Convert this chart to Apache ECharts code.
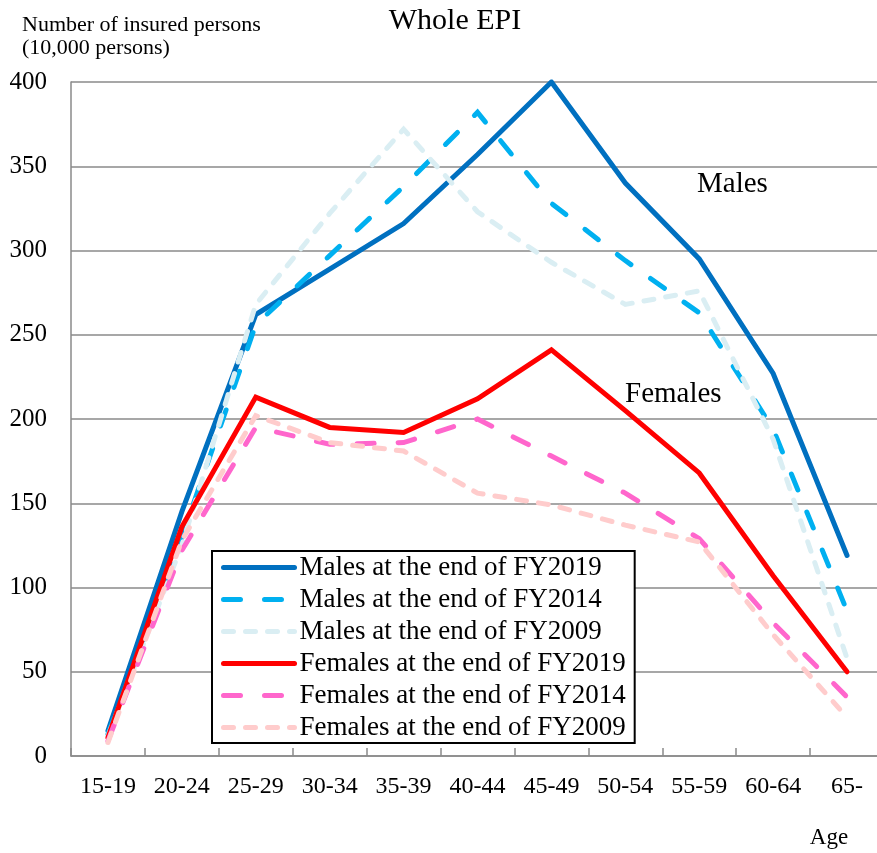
<!DOCTYPE html>
<html>
<head>
<meta charset="utf-8">
<script src="https://cdn.jsdelivr.net/npm/echarts@6/dist/echarts.min.js"></script>
<style>
	html, body { margin: 0; padding: 0; background: #fff; }
	#chart { width: 877px; height: 853px; }
</style>
</head>
<body>
<div id="chart"></div>
<script>
var SERIF = "'Liberation Serif', 'Times New Roman', serif";

// age groups
var ageGroups = ['15-19', '20-24', '25-29', '30-34', '35-39', '40-44', '45-49', '50-54', '55-59', '60-64', '65-'];

// insured persons (10,000 persons)
var males2019 = [15, 145, 262, 289, 316, 357, 400, 340, 295, 227, 119];
var males2014 = [13, 130, 256, 297, 338, 382, 328, 294, 263, 194, 86];
var males2009 = [12, 125, 268, 322, 372, 323, 293, 268, 276, 188, 58];
var females2019 = [11, 136, 213, 195, 192, 212, 241, 205, 168, 107, 50];
var females2014 = [9, 122, 195, 185, 186, 200, 178, 156, 129, 79, 35];
var females2009 = [8, 128, 202, 186, 181, 156, 149, 137, 127, 72, 23];

var seriesNames = [
	'Males at the end of FY2019',
	'Males at the end of FY2014',
	'Males at the end of FY2009',
	'Females at the end of FY2019',
	'Females at the end of FY2014',
	'Females at the end of FY2009'
];

var LONG_DASH = [17, 24];
var SHORT_DASH = [10, 12];

function makeLine(name, data, color, type) {
	return {
		name: name,
		type: 'line',
		data: data,
		symbol: 'circle',
		symbolSize: 0,
		showSymbol: false,
		animation: false,
		lineStyle: {
			color: color,
			width: 5,
			type: type,
			cap: 'round',
			join: 'miter'
		},
		itemStyle: { color: color }
	};
}

function renderChart() {
	var option = {
		backgroundColor: '#fff',
		animation: false,
		grid: {
			left: 71,
			top: 82,
			width: 813,
			height: 674,
			containLabel: false,
			outerBoundsMode: 'none'
		},
		legend: {
			orient: 'vertical',
			left: 212,
			top: 551,
			padding: [3, 9, 2, 9],
			itemGap: 5,
			itemWidth: 71,
			itemHeight: 14,
			backgroundColor: '#fff',
			borderColor: '#000',
			borderWidth: 2,
			borderRadius: 0,
			itemStyle: { opacity: 0 },
			lineStyle: { width: 5, cap: 'round' },
			textStyle: {
				fontFamily: SERIF,
				fontSize: 27,
				lineHeight: 26,
				color: '#000'
			},
			data: seriesNames
		},
		xAxis: [{
			type: 'category',
			data: ageGroups,
			boundaryGap: true,
			axisLine: {
				lineStyle: { color: '#8a8a8a', width: 1.5 }
			},
			axisTick: {
				show: true,
				inside: true,
				length: 8,
				lineStyle: { color: '#8a8a8a', width: 1.5 }
			},
			axisLabel: {
				color: '#000',
				fontFamily: SERIF,
				fontSize: 24,
				margin: 19,
				interval: 0
			},
			splitLine: { show: false }
		}],
		yAxis: [{
			type: 'value',
			min: 0,
			max: 400,
			interval: 50,
			axisLine: {
				show: true,
				lineStyle: { color: '#8a8a8a', width: 1.5 }
			},
			axisTick: { show: false },
			axisLabel: {
				color: '#000',
				fontFamily: SERIF,
				fontSize: 25,
				margin: 24
			},
			splitLine: {
				lineStyle: { color: '#8a8a8a', width: 1.5 }
			}
		}],
		graphic: [
			{
				type: 'text', x: 455, y: 21,
				style: { text: 'Whole EPI', fontFamily: SERIF, fontSize: 30, fill: '#000', align: 'center', verticalAlign: 'middle' }
			},
			{
				type: 'text', x: 22, y: 25,
				style: { text: 'Number of insured persons', fontFamily: SERIF, fontSize: 22, fill: '#000', align: 'left', verticalAlign: 'middle' }
			},
			{
				type: 'text', x: 22, y: 48,
				style: { text: '(10,000 persons)', fontFamily: SERIF, fontSize: 22, fill: '#000', align: 'left', verticalAlign: 'middle' }
			},
			{
				type: 'text', x: 697, y: 184, z: 10,
				style: { text: 'Males', fontFamily: SERIF, fontSize: 29, fill: '#000', align: 'left', verticalAlign: 'middle' }
			},
			{
				type: 'text', x: 625, y: 394, z: 10,
				style: { text: 'Females', fontFamily: SERIF, fontSize: 29, fill: '#000', align: 'left', verticalAlign: 'middle' }
			},
			{
				type: 'text', x: 829, y: 838,
				style: { text: 'Age', fontFamily: SERIF, fontSize: 23, fill: '#000', align: 'center', verticalAlign: 'middle' }
			}
		],
		series: [
			makeLine(seriesNames[0], males2019, '#0070C0', 'solid'),
			makeLine(seriesNames[1], males2014, '#00B0F0', LONG_DASH),
			makeLine(seriesNames[2], males2009, '#DAEEF3', SHORT_DASH),
			makeLine(seriesNames[3], females2019, '#FF0000', 'solid'),
			makeLine(seriesNames[4], females2014, '#FF66CC', LONG_DASH),
			makeLine(seriesNames[5], females2009, '#FFCCCC', SHORT_DASH)
		]
	};
	var chart = echarts.init(document.getElementById('chart'), null, { renderer: 'canvas' });
	chart.setOption(option);
}

renderChart();
</script>
</body>
</html>
